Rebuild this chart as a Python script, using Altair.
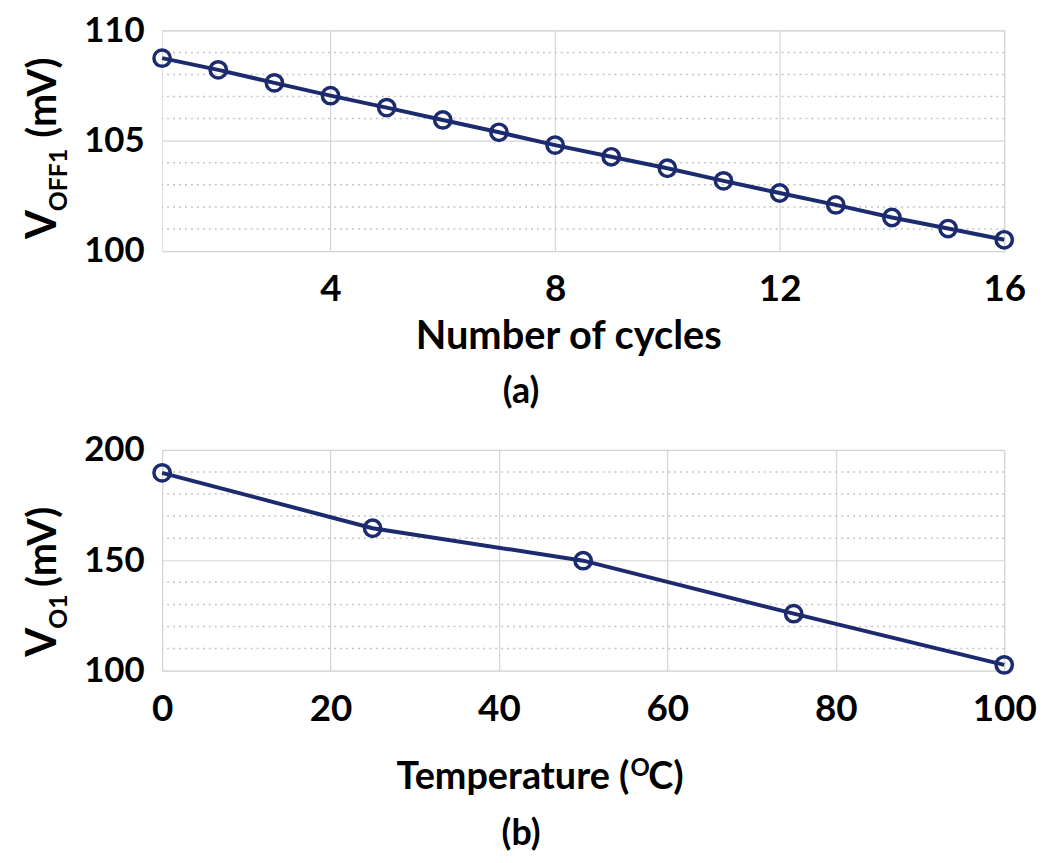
import altair as alt
import pandas as pd

# ---------------- data ----------------
cycles = list(range(1, 17))
voff1 = [108.74, 108.21, 107.62, 107.04, 106.50, 105.94, 105.38, 104.80,
         104.27, 103.75, 103.18, 102.63, 102.09, 101.52, 101.02, 100.51]

temps = [0, 25, 50, 75, 100]
vo1 = [189.6, 164.5, 149.8, 125.8, 102.6]

top_xticks = [4, 8, 12, 16]
top_yticks = [100, 105, 110]
top_minor = [101, 102, 103, 104, 106, 107, 108, 109]
bot_xticks = [0, 20, 40, 60, 80, 100]
bot_yticks = [100, 150, 200]
bot_minor = [110, 120, 130, 140, 160, 170, 180, 190]

# ---------------- style ----------------
FONT = "Lato"
NAVY = "#1c2a6e"
W, H = 847, 222


def txt(label, x, y, size, angle=0, align="center", baseline="alphabetic"):
    return alt.Chart(pd.DataFrame({"label": [label]})).mark_text(
        font=FONT, fontSize=size, fontWeight="bold", color="black",
        angle=angle, align=align, baseline=baseline,
    ).encode(x=alt.value(x), y=alt.value(y), text="label:N")


def panel(xs, ys, xdom, ydom, xticks, yticks, minor, texts):
    df = pd.DataFrame({"x": xs, "y": ys})
    xscale = alt.Scale(domain=xdom, nice=False, zero=False)
    yscale = alt.Scale(domain=ydom, nice=False, zero=False)
    xaxis = alt.Axis(values=xticks, title=None, grid=True, gridColor="#d4d4d4",
                     gridWidth=1.2, ticks=False, tickSize=0, domain=False,
                     labelFont=FONT, labelFontSize=37, labelFontWeight="bold",
                     labelColor="black", labelPadding=21, labelFlush=False,
                     format="d")
    yaxis = alt.Axis(values=yticks, title=None, grid=True, gridColor="#d4d4d4",
                     gridWidth=1.2, ticks=False, tickSize=0, domain=False,
                     labelFont=FONT, labelFontSize=35, labelFontWeight="bold",
                     labelColor="black", labelPadding=18, labelFlush=False,
                     format="d")
    minor_df = pd.DataFrame({"m": minor})
    rules = alt.Chart(minor_df).mark_rule(
        color="#c4c4c4", strokeWidth=1.5, strokeDash=[2, 4]
    ).encode(y=alt.Y("m:Q", scale=yscale, axis=yaxis))
    line = alt.Chart(df).mark_line(color=NAVY, strokeWidth=4, clip=False).encode(
        x=alt.X("x:Q", scale=xscale, axis=xaxis),
        y=alt.Y("y:Q", scale=yscale, axis=yaxis),
    )
    pts = alt.Chart(df).mark_point(
        filled=False, size=270, strokeWidth=3.5, color=NAVY, opacity=1, clip=False
    ).encode(
        x=alt.X("x:Q", scale=xscale, axis=xaxis),
        y=alt.Y("y:Q", scale=yscale, axis=yaxis),
    )
    layers = [rules, line, pts] + texts
    return alt.layer(*layers).properties(width=W, height=H)


top_texts = [
    txt("V", -107, 210, 42, angle=270, align="left"),
    txt("OFF1", -96, 182, 25, angle=270, align="left"),
    txt("(mV)", -107, 108, 40, angle=270, align="left"),
    txt("Number of cycles", 409, 321, 40),
    txt("(a)", 361, 375, 36),
]
bot_texts = [
    txt("V", -107, 208, 42, angle=270, align="left"),
    txt("O1", -96, 180, 25, angle=270, align="left"),
    txt("(mV)", -107, 138, 40, angle=270, align="left"),
    txt("Temperature (", 470, 341, 38, align="right"),
    txt("O", 471, 328, 24, align="left"),
    txt("C)", 489, 341, 38, align="left"),
    txt("(b)", 361, 397, 36),
]

top = panel(cycles, voff1, [1, 16], [100, 110], top_xticks, top_yticks, top_minor, top_texts)
bottom = panel(temps, vo1, [0, 100], [100, 200], bot_xticks, bot_yticks, bot_minor, bot_texts)

chart = alt.vconcat(top, bottom, spacing=21).properties(
    padding={"left": 13, "top": 2, "right": 5, "bottom": 0}
).configure_view(stroke="#333333", strokeWidth=2).configure(background="white")

chart.save("out.html", embed_options={"renderer": "svg", "actions": False})
